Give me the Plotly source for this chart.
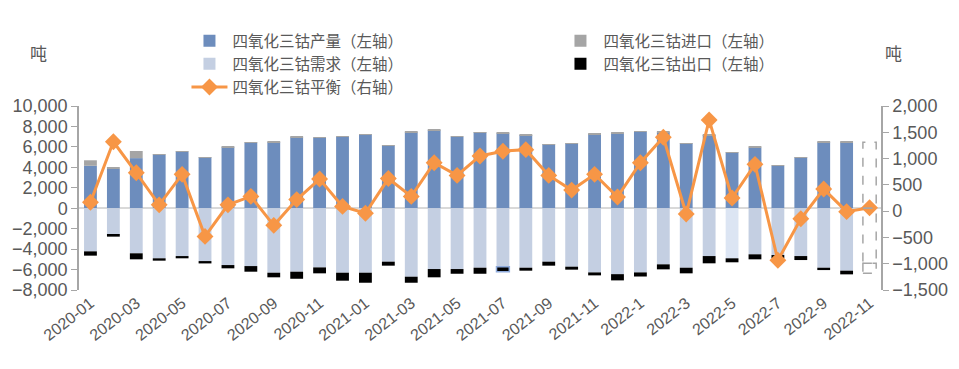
import plotly.graph_objects as go

categories = ["2020-01","2020-02","2020-03","2020-04","2020-05","2020-06","2020-07","2020-08","2020-09","2020-10","2020-11","2020-12",
              "2021-01","2021-02","2021-03","2021-04","2021-05","2021-06","2021-07","2021-08","2021-09","2021-10","2021-11","2021-12",
              "2022-1","2022-2","2022-3","2022-4","2022-5","2022-6","2022-7","2022-8","2022-9","2022-10","2022-11"]

production = [4150,3850,4900,5250,5550,4980,5960,6420,6450,6940,6900,7000,
              7230,6150,7420,7620,7000,7420,7330,7160,6250,6350,7260,7330,
              7490,7430,6350,7160,5470,5930,4160,4980,6450,6450,None]
imports = [540,150,700,40,40,30,30,40,40,40,40,30,
           30,30,40,40,30,30,30,30,30,30,30,30,
           30,40,30,40,30,90,30,30,30,30,None]
demand = [-4220,-2600,-4410,-4900,-4680,-5170,-5560,-5660,-6310,-6210,-5790,-6310,
          -6310,-5230,-6700,-5950,-5950,-5820,-5720,-5820,-5230,-5720,-6280,-6450,
          -6280,-5490,-5820,-4680,-4900,-4510,-4580,-4680,-5820,-6110,None]
exports = [420,180,590,230,220,230,320,550,450,690,580,780,
           980,390,590,810,460,590,490,290,390,290,290,610,
           400,490,550,710,390,490,320,390,230,360,None]
balance = [170,1320,730,120,700,-480,120,280,-270,220,610,90,
           -40,620,280,920,680,1050,1140,1170,680,400,700,270,
           920,1405,-55,1735,250,890,-935,-145,420,-10,65]

# forecast (dashed outline) for the last month
forecast_production = 6450
forecast_demand = -5390
forecast_export = 980

tick_labels = categories[::2]

C_PROD = "#6d8dbd"
C_DEM = "#c4cfe2"
C_DEM_HL = "#dce5f3"
C_IMP = "#a5a5a5"
C_EXP = "#000000"
C_BAL = "#f79646"
TXT = "#595959"
FONT = "Liberation Sans, Arial, Noto Sans CJK SC"

dem_colors = [C_DEM_HL if c == "2022-5" else C_DEM for c in categories]
exp_line_col = ["#8eaadb" if c == "2021-07" else "rgba(0,0,0,0)" for c in categories]
exp_line_w = [1.5 if c == "2021-07" else 0 for c in categories]

fig = go.Figure()
fig.add_trace(go.Bar(x=categories, y=production, name="四氧化三钴产量（左轴）",
                     marker=dict(color=C_PROD, line=dict(width=0))))
fig.add_trace(go.Bar(x=categories, y=imports, name="四氧化三钴进口（左轴）",
                     marker=dict(color=C_IMP, line=dict(width=0))))
fig.add_trace(go.Bar(x=categories, y=demand, name="四氧化三钴需求（左轴）",
                     marker=dict(color=dem_colors, line=dict(width=0))))
fig.add_trace(go.Bar(x=categories, y=[-v if v is not None else None for v in exports],
                     name="四氧化三钴出口（左轴）",
                     marker=dict(color=C_EXP, line=dict(color=exp_line_col, width=exp_line_w))))
fig.add_trace(go.Scatter(x=categories, y=balance, name="四氧化三钴平衡（右轴）", yaxis="y2",
                         mode="lines+markers",
                         line=dict(color=C_BAL, width=3),
                         marker=dict(symbol="diamond", size=13, color=C_BAL)))

# dashed outline bars for forecast month
idx = len(categories) - 1
hw = 0.29
for y0, y1 in [(0, forecast_production), (forecast_demand, 0),
               (forecast_demand - forecast_export, forecast_demand)]:
    fig.add_shape(type="rect", xref="x", yref="y", x0=idx - hw, x1=idx + hw, y0=y0, y1=y1,
                  line=dict(color="#a6a6a6", width=1.5, dash="dash"), fillcolor="rgba(0,0,0,0)",
                  layer="above")

fig.update_layout(
    width=959, height=369,
    margin=dict(l=79, r=78, t=106, b=79, autoexpand=False),
    paper_bgcolor="white", plot_bgcolor="white",
    barmode="relative", bargap=0.44,
    font=dict(family=FONT, color=TXT, size=16),
    showlegend=True,
    legend=dict(orientation="h", x=0.134, xanchor="left", y=1.445, yanchor="top",
                entrywidth=320, entrywidthmode="pixels", traceorder="normal",
                font=dict(size=15.5, color=TXT, family="Noto Sans CJK SC, Liberation Sans"),
                itemwidth=36, tracegroupgap=0, bgcolor="rgba(0,0,0,0)"),
    xaxis=dict(type="category", range=[-0.5, len(categories) - 0.5], automargin=False,
               tickmode="array", tickvals=tick_labels, ticktext=tick_labels,
               tickangle=-38, tickfont=dict(size=16, color=TXT),
               showline=False, showgrid=False, ticks="", zeroline=False),
    yaxis=dict(range=[-8000, 10000], tickvals=list(range(-8000, 10001, 2000)), automargin=False,
               tickformat=",", tickfont=dict(size=18, color=TXT),
               showline=True, linecolor="#a6a6a6", linewidth=1.5,
               ticks="outside", ticklen=6, tickcolor="#a6a6a6",
               showgrid=False, zeroline=True, zerolinecolor="#d9d9d9", zerolinewidth=2),
    yaxis2=dict(range=[-1500, 2000], tickvals=list(range(-1500, 2001, 500)), automargin=False,
                overlaying="y", side="right", tickformat=",", tickfont=dict(size=18, color=TXT),
                showline=True, linecolor="#a6a6a6", linewidth=1.5,
                ticks="outside", ticklen=6, tickcolor="#a6a6a6",
                showgrid=False, zeroline=False),
    annotations=[
        dict(text="吨", xref="paper", yref="paper", x=-0.051, y=1.293, xanchor="center",
             yanchor="middle", showarrow=False,
             font=dict(size=17, color=TXT, family="Noto Sans CJK SC")),
        dict(text="吨", xref="paper", yref="paper", x=1.015, y=1.293, xanchor="center",
             yanchor="middle", showarrow=False,
             font=dict(size=17, color=TXT, family="Noto Sans CJK SC")),
    ],
)

fig.write_html("out.html", config={"displayModeBar": False},
               post_script="document.body.style.margin='0';")
